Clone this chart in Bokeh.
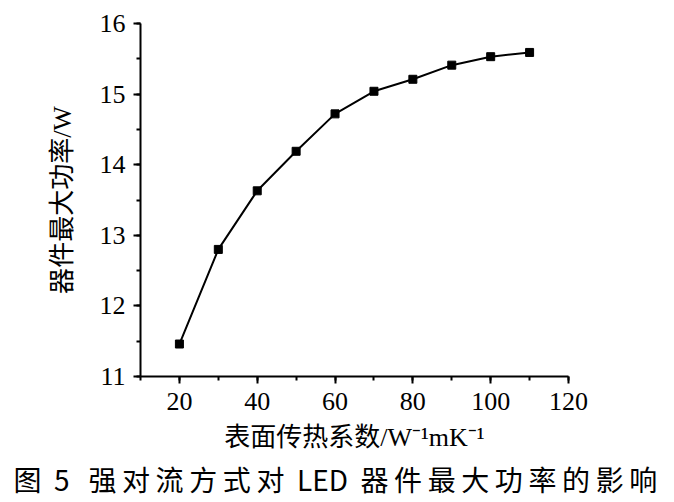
from bokeh.plotting import figure
from bokeh.models import Range1d, SingleIntervalTicker, Title
from bokeh.embed import file_html
from bokeh.resources import INLINE

# data
h_coef = [20, 30, 40, 50, 60, 70, 80, 90, 100, 110]
max_power = [11.46, 12.80, 13.63, 14.19, 14.72, 15.04, 15.21, 15.41, 15.53, 15.59]

x_label = "表面传热系数/W⁻¹mK⁻¹"
y_label = "器件最大功率/W"
T = "\u2009"
S = "\u00a0"
caption = ("图" + S * 2 + "5" + S * 3 + T.join("强对流方式对") + S * 2 + "LED" + S * 2
           + T.join("器件最大功率的影响"))

SERIF = "Liberation Serif, Noto Sans CJK SC"

p = figure(width=674, height=502, output_backend="svg", toolbar_location=None,
           x_range=Range1d(10, 120), y_range=Range1d(11, 16),
           min_border_left=140, min_border_right=106, min_border_top=23, min_border_bottom=126)
p.outline_line_color = None
p.xgrid.visible = False
p.ygrid.visible = False
p.background_fill_color = "white"
p.border_fill_color = "white"

p.line(h_coef, max_power, line_color="black", line_width=2)
p.scatter(h_coef, max_power, marker="square", size=8, fill_color="black", line_color="black")

for ax in (p.xaxis[0], p.yaxis[0]):
    ax.axis_line_width = 2
    ax.axis_line_color = "black"
    ax.major_tick_line_width = 2
    ax.minor_tick_line_width = 2
    ax.major_tick_in = 0
    ax.major_tick_out = 7
    ax.minor_tick_in = 0
    ax.minor_tick_out = 4
    ax.major_label_text_font = "Liberation Serif"
    ax.major_label_text_font_size = "26px"
    ax.major_label_text_color = "black"
    ax.axis_label_text_font = SERIF
    ax.axis_label_text_font_size = "26px"
    ax.axis_label_text_font_style = "normal"
    ax.axis_label_text_color = "black"

p.xaxis[0].ticker = SingleIntervalTicker(interval=20, num_minor_ticks=2)
p.yaxis[0].ticker = SingleIntervalTicker(interval=1, num_minor_ticks=2)
p.xaxis[0].major_label_standoff = 9
p.yaxis[0].major_label_standoff = 8
p.xaxis[0].axis_label = x_label
p.yaxis[0].axis_label = y_label
p.xaxis[0].axis_label_standoff = 10
p.yaxis[0].axis_label_standoff = 20

cap = Title(text=caption, align="left", text_font="Noto Sans CJK SC",
            text_font_size="28px", text_font_style="normal", text_color="black",
            standoff=5, offset=-127)
p.add_layout(cap, "below")

open("out.html", "w").write(file_html(p, INLINE))
